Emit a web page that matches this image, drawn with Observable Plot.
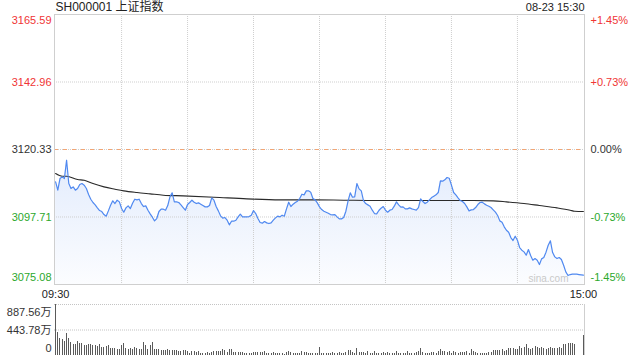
<!DOCTYPE html>
<html><head><meta charset="utf-8">
<script src="https://cdn.jsdelivr.net/npm/d3@7"></script>
<script src="https://cdn.jsdelivr.net/npm/@observablehq/plot@0.6"></script>
<style>
html,body{margin:0;padding:0;background:#fff;}
#wrap{position:relative;width:640px;height:360px;overflow:hidden;background:#fff;}
#wrap > svg{position:absolute;left:0;}
</style></head><body><div id="wrap"></div>
<script>
const title = "SH000001 上证指数";
const stamp = "08-23 15:30";
const timeLabels = ["09:30", "15:00"];
const timeIdx = [0, 240];
const gridMinutes = [30, 60, 90, 120, 150, 180, 210];
const priceTicks = [3165.59, 3142.96, 3120.33, 3097.71, 3075.08];
const pctLabels = ["+1.45%", "+0.73%", "0.00%", "-0.73%", "-1.45%"];
const prevClose = 3120.33;
const volTicks = [887.56, 443.78, 0];
const volTickLabels = ["887.56万", "443.78万", "0"];
const watermark = "sina.com";

// minute prices 09:30-11:30, 13:00-15:00 (241 points)
const price = [
3109.48,3106.69,3110.60,3111.16,3110.60,3116.74,3108.92,3107.25,3107.81,3106.69,
3107.25,3108.59,3108.92,3108.37,3107.25,3105.24,3103.67,3102.56,3101.77,3100.77,
3099.88,3099.54,3098.53,3097.98,3099.76,3101.66,3103.12,3102.22,3103.34,3102.78,
3100.55,3099.32,3100.77,3101.44,3100.55,3102.33,3103.67,3103.45,3103.67,3102.22,
3101.22,3101.44,3099.99,3098.76,3097.64,3096.41,3097.19,3099.54,3100.32,3100.32,
3099.99,3101.55,3104.46,3105.80,3102.78,3102.78,3102.56,3101.77,3100.88,3099.99,
3101.89,3102.56,3103.34,3102.67,3102.22,3102.45,3102.00,3101.55,3101.10,3101.10,
3101.55,3104.12,3103.34,3101.22,3099.76,3098.09,3097.31,3097.53,3096.63,3095.07,
3096.30,3096.30,3096.63,3097.75,3098.65,3097.75,3097.75,3097.75,3097.86,3098.31,
3099.88,3098.87,3097.19,3095.85,3095.63,3096.19,3095.74,3095.52,3095.74,3096.63,
3097.42,3097.98,3097.75,3098.31,3097.98,3100.43,3102.67,3101.22,3102.00,3102.56,
3103.00,3103.90,3105.35,3105.13,3106.47,3106.47,3106.02,3103.90,3103.45,3102.45,
3101.10,3100.21,3099.65,3099.32,3098.98,3098.53,3098.42,3098.53,3097.75,3097.08,
3097.08,3097.53,3099.65,3103.12,3105.80,3104.34,3104.46,3108.92,3107.14,3106.47,
3103.23,3102.22,3101.77,3101.33,3099.99,3098.87,3098.76,3099.88,3100.66,3101.22,
3099.99,3099.32,3099.99,3100.21,3101.33,3102.78,3101.77,3100.99,3101.10,3100.43,
3100.43,3100.77,3100.43,3100.21,3099.99,3100.88,3103.79,3102.89,3102.22,3102.67,
3103.45,3104.23,3104.68,3105.13,3105.91,3109.82,3109.71,3110.16,3110.94,3110.71,
3108.37,3105.91,3105.13,3104.12,3103.23,3102.89,3102.22,3101.10,3099.76,3100.10,
3100.21,3100.88,3101.89,3102.56,3102.67,3102.11,3101.66,3101.33,3100.88,3100.10,
3099.32,3098.20,3096.41,3095.96,3094.40,3093.28,3092.61,3090.82,3089.82,3091.27,
3089.93,3087.47,3086.58,3086.02,3084.90,3086.80,3084.79,3083.23,3083.78,3083.23,
3081.77,3083.67,3084.12,3085.91,3088.25,3089.71,3085.80,3084.34,3083.78,3084.12,
3083.45,3081.55,3079.31,3078.09,3078.42,3078.53,3078.53,3078.53,3078.42,3078.31,3078.20
];

// average price line, read at selected minutes
const avgMinute = [0,3,5,10,13,17,22,27,31,37,43,49,58,72,87,102,118,131,146,161,177,190,199,205,213,220,228,234,236,240];
const avgPrice = [3112.28,3111.38,3111.38,3110.26,3110.04,3108.92,3107.81,3107.03,3106.47,3105.91,3105.46,3105.02,3104.79,3104.34,3103.79,3103.45,3103.45,3103.34,3103.23,3103.23,3103.23,3103.23,3103.12,3102.78,3102.22,3101.55,3100.77,3099.99,3099.65,3099.54];

// minute volume (万)
const volume = [
887.56,406,302,273,244,389,302,232,197,186,
244,215,215,168,174,197,197,180,180,151,
197,145,145,157,174,128,128,128,110,110,
174,215,128,110,128,99,139,128,99,110,
232,174,110,168,232,110,110,110,93,93,
87,99,93,87,87,87,70,70,81,87,
70,41,64,70,58,70,41,41,41,58,
41,58,70,70,70,70,99,81,58,99,
99,58,58,58,58,58,41,41,41,41,
52,58,58,58,58,70,41,41,41,46,
29,41,41,29,23,58,70,46,41,41,
41,29,70,58,52,35,29,41,41,29,
139,41,41,41,41,41,52,41,41,52,
41,41,58,81,81,58,35,116,58,58,
58,29,70,41,41,70,29,41,41,52,
41,58,41,41,41,70,29,41,41,41,
70,41,29,41,58,70,116,52,41,41,
29,52,52,41,70,99,70,70,58,70,
41,70,52,29,52,52,52,70,41,99,
70,58,29,29,29,29,41,58,58,81,
81,81,81,99,70,81,128,116,116,99,
110,157,128,139,186,128,99,128,157,139,
116,139,116,99,116,139,116,128,128,139,
128,186,186,203,215,203,190,2,2,2,342
];

const FONT = '"Liberation Sans", Arial, "Noto Sans CJK SC", sans-serif';
const RED = "#f03535", GREEN = "#2ca82c", DARK = "#333";
const xDomain = [-0.5, 240.5];
const priceData = price.map((p, i) => ({i, p}));
const avgData = avgMinute.map((m, k) => ({i: m, p: avgPrice[k]}));
const volData = volume.map((v, i) => ({i, v}));
const colorFor = v => v > prevClose ? RED : v < prevClose ? GREEN : DARK;

function sideLabels(values, texts, colors, side, dys) {
  const rows = values.map((v, k) => ({v, t: texts[k], c: colors[k], k}));
  const n = rows.length;
  const groups = [rows.slice(0, 1), rows.slice(1, n - 1), rows.slice(n - 1)];
  return groups.map((g, gi) => Plot.text(g, {
    y: "v", text: "t", fill: "c",
    frameAnchor: side,
    textAnchor: side === "left" ? "end" : "start",
    dx: side === "left" ? -3 : 6,
    dy: dys[gi], lineAnchor: "middle"
  }));
}

const main = Plot.plot({
  width: 640, height: 300,
  marginTop: 14, marginBottom: 16, marginLeft: 54, marginRight: 56,
  x: {domain: xDomain, axis: null},
  y: {domain: [priceTicks[4], priceTicks[0]], axis: null},
  color: {type: "identity"},
  style: {fontFamily: FONT, fontSize: "11px", background: "transparent", overflow: "visible"},
  marks: [
    Plot.areaY(priceData, {x: "i", y1: priceTicks[4], y2: "p", fill: "url(#priceFill)"}),
    Plot.ruleY([priceTicks[1], priceTicks[2], priceTicks[3]], {stroke: "#cfcfcf", strokeDasharray: "1,1"}),
    Plot.ruleX(gridMinutes, {stroke: "#cfcfcf", strokeDasharray: "1,1"}),
    Plot.ruleY([prevClose], {stroke: "#f2a574", strokeDasharray: "4,5"}),
    Plot.line(avgData, {x: "i", y: "p", stroke: "#2a2a2a", strokeWidth: 1.1, curve: "monotone-x"}),
    Plot.line(priceData, {x: "i", y: "p", stroke: "#5089f0", strokeWidth: 1.2}),
    Plot.frame({stroke: "#cfcfcf"}),
    ...sideLabels(priceTicks, priceTicks.map(v => v.toFixed(2)), priceTicks.map(colorFor), "left", [6, 0, -7.5]),
    ...sideLabels(priceTicks, pctLabels, priceTicks.map(colorFor), "right", [6, 0, -7.5]),
    Plot.text([title], {text: d => d, frameAnchor: "top-left", textAnchor: "start", dx: 1, dy: -7, lineAnchor: "middle", fontSize: 12, fill: "#222"}),
    Plot.text([stamp], {text: d => d, frameAnchor: "top-right", textAnchor: "end", dy: -7, lineAnchor: "middle", fill: "#222"}),
    Plot.text(timeLabels.map((t, k) => ({t, i: timeIdx[k]})), {x: "i", text: "t", frameAnchor: "bottom", textAnchor: d => d.i === 0 ? "start" : "end", dy: 9.5, lineAnchor: "middle", fill: "#222"}),
    Plot.text([watermark], {text: d => d, frameAnchor: "bottom-right", textAnchor: "end", dx: -16, dy: -6, lineAnchor: "middle", fontSize: 10, fill: "#c9c9c9"})
  ]
});

// gradient for the area under the price line
const ns = "http://www.w3.org/2000/svg";
const defs = document.createElementNS(ns, "defs");
const grad = document.createElementNS(ns, "linearGradient");
grad.setAttribute("id", "priceFill");
grad.setAttribute("x1", "0"); grad.setAttribute("y1", "0");
grad.setAttribute("x2", "0"); grad.setAttribute("y2", "1");
[["0%", "#4d86ee", 0.16], ["100%", "#4d86ee", 0.02]].forEach(([o, c, a]) => {
  const s = document.createElementNS(ns, "stop");
  s.setAttribute("offset", o); s.setAttribute("stop-color", c); s.setAttribute("stop-opacity", a);
  grad.appendChild(s);
});
defs.appendChild(grad);
main.insertBefore(defs, main.firstChild);

const vol = Plot.plot({
  width: 640, height: 60,
  marginTop: 4, marginBottom: 5, marginLeft: 54, marginRight: 56,
  x: {domain: xDomain, axis: null},
  y: {domain: [0, volTicks[0]], axis: null},
  color: {type: "identity"},
  style: {fontFamily: FONT, fontSize: "11px", background: "transparent", overflow: "visible"},
  marks: [
    Plot.ruleY([volTicks[0], volTicks[1]], {stroke: "#c4c4c4", strokeDasharray: "1,1"}),
    Plot.ruleX([xDomain[1]], {stroke: "#cfcfcf"}),
    Plot.ruleX(volData, {x: "i", y1: 0, y2: "v", stroke: "#5a5a5a", strokeWidth: 1, shapeRendering: "crispEdges"}),
    ...sideLabels(volTicks, volTickLabels, volTicks.map(() => DARK), "left", [7.5, 0, -7])
  ]
});

const wrap = document.getElementById("wrap");
main.style.top = "0px";
vol.style.top = "300px";
wrap.appendChild(main);
wrap.appendChild(vol);
</script>
</body></html>
